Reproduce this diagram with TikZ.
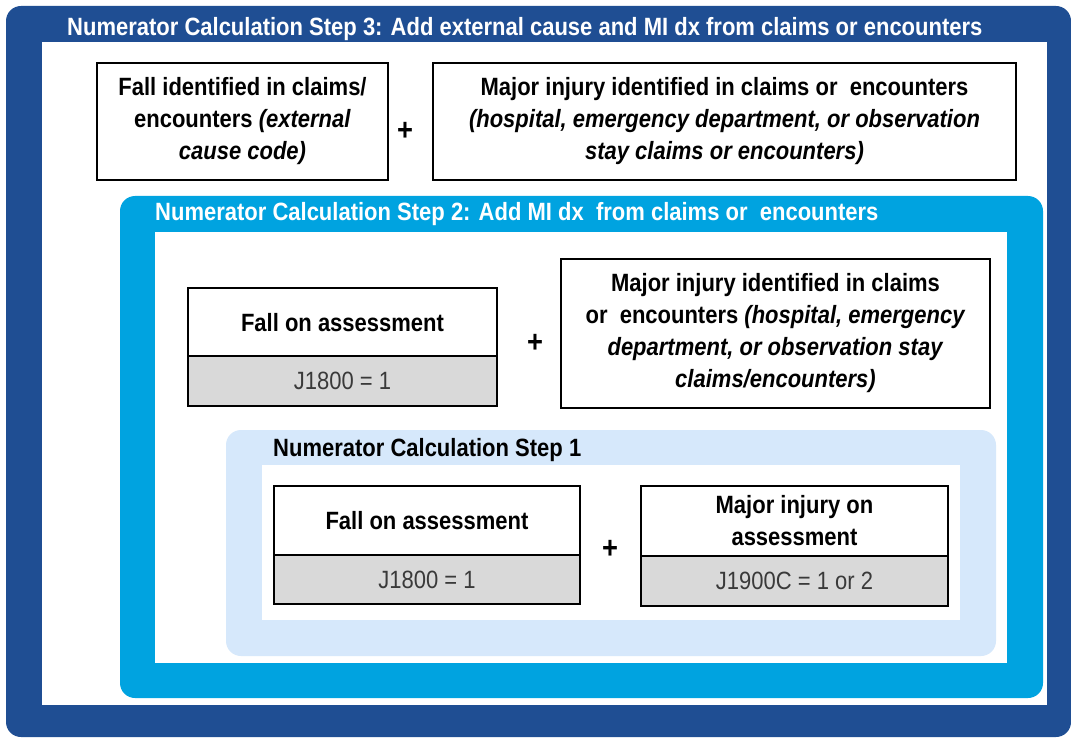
\documentclass[tikz,border=0pt]{standalone}
\usepackage{fontspec}
\setmainfont{Liberation Sans}[FakeStretch=0.88]
\definecolor{darkblue}{HTML}{1F4E93}
\definecolor{cyanblue}{HTML}{00A3E0}
\definecolor{paleblue}{HTML}{D6E8FB}
\definecolor{boxgray}{HTML}{D9D9D9}
\definecolor{codegray}{HTML}{3A3A3A}
\begin{document}
\begin{tikzpicture}[x=1pt,y=-1pt,
  titletext/.style={font=\fontsize{25}{32}\selectfont\bfseries, anchor=west, inner sep=0},
  stepbox/.style={draw=black, line width=2.5pt, fill=white, inner sep=0, align=center,
    font=\fontsize{25}{32}\selectfont\bfseries},
  codebox/.style={draw=black, line width=2.5pt, fill=boxgray, inner sep=0, align=center,
    text=codegray, font=\fontsize{25}{32}\selectfont},
  plussign/.style={inner sep=0, font=\fontsize{31}{32}\selectfont\bfseries}
]
\useasboundingbox (0,0) rectangle (1071,738);
% step 3 frame
\fill[darkblue, rounded corners=15pt] (6,6) rectangle (1071,737);
\fill[white] (42,42) rectangle (1047,705);
\node[titletext, text=white] (t3) at (67,29) {Numerator Calculation Step 3: Add external cause and MI dx from claims or encounters};
\node[stepbox, minimum width=291, minimum height=117] (f3) at (242.5,121.5)
  {\raisebox{-2pt}{\parbox{280pt}{\centering Fall identified in claims/\\encounters \textit{(external}\\\textit{cause code)}}}};
\node[plussign] (p3) at (405,131) {+};
\node[stepbox, minimum width=583, minimum height=117] (m3) at (724.5,121.5)
  {\raisebox{-2pt}{\parbox{570pt}{\centering Major injury identified in claims or\ \ encounters\\\textit{(hospital, emergency department, or observation}\\\textit{stay claims or encounters)}}}};
% step 2 frame
\fill[cyanblue, rounded corners=15pt] (120,196) rectangle (1043,698);
\fill[white] (155,232) rectangle (1007,663);
\node[titletext, text=white] (t2) at (155,214) {Numerator Calculation Step 2: Add MI dx\ \ from claims or\ \ encounters};
\node[stepbox, minimum width=309, minimum height=69] (f2) at (342.5,322.5) {Fall on assessment};
\node[codebox, minimum width=309, minimum height=50] (c2) at (342.5,381) {J1800 = 1};
\node[plussign] (p2) at (535,343) {+};
\node[stepbox, minimum width=429, minimum height=149] (m2) at (775.5,333.5)
  {Major injury identified in claims\\or\ \ encounters \textit{(hospital, emergency}\\\textit{department, or observation stay}\\\textit{claims/encounters)}};
% step 1 frame
\fill[paleblue, rounded corners=15pt] (226,430) rectangle (996,656);
\fill[white] (262,465) rectangle (960,620);
\node[titletext, text=black] (t1) at (273,450) {Numerator Calculation Step 1};
\node[stepbox, minimum width=306, minimum height=69] (f1) at (427,520.5) {Fall on assessment};
\node[codebox, minimum width=306, minimum height=49] (c1) at (427,579.5) {J1800 = 1};
\node[plussign] (p1) at (610,549) {+};
\node[stepbox, minimum width=307, minimum height=70] (m1) at (794.5,521) {Major injury on\\assessment};
\node[codebox, minimum width=307, minimum height=50] (c1b) at (794.5,581) {J1900C = 1 or 2};
\end{tikzpicture}
\end{document}
